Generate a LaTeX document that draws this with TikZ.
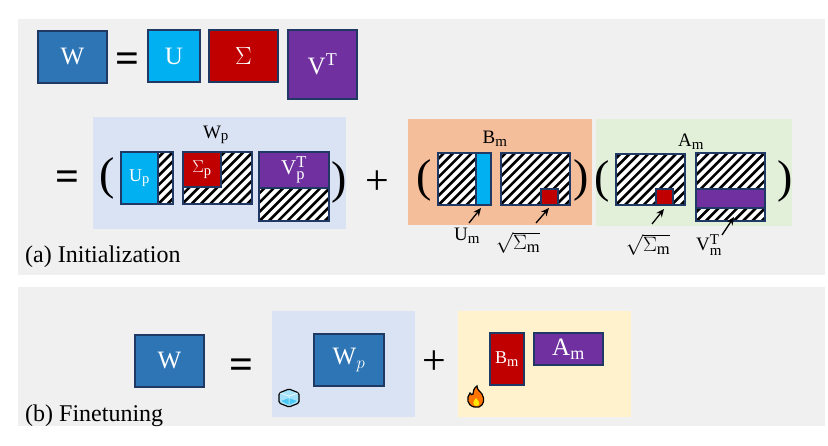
\documentclass[tikz,border=0pt]{standalone}
\usepackage{amsmath}
\usepackage{fontspec}
\setmainfont{Liberation Serif}
\usetikzlibrary{arrows.meta,positioning,calc}
\DeclareMathSizes{18}{18}{14.5}{11}
\DeclareMathSizes{19}{19}{15}{11}
\DeclareMathSizes{21}{21}{16.5}{12}
\DeclareMathSizes{25}{25}{18}{13}
\definecolor{panelgray}{RGB}{240,240,240}
\definecolor{edgecolor}{RGB}{32,56,100}
\definecolor{wcolor}{RGB}{46,117,182}
\definecolor{ucolor}{RGB}{0,176,240}
\definecolor{scolor}{RGB}{192,0,0}
\definecolor{vcolor}{RGB}{112,48,160}
\definecolor{lightblue}{RGB}{218,227,243}
\definecolor{lightorange}{RGB}{245,190,155}
\definecolor{lightgreen}{RGB}{226,240,217}
\definecolor{lightyellow}{RGB}{255,242,204}
\tikzset{
  panel/.style={anchor=north west,inner sep=0pt,outer sep=0pt},
  matbox/.style={draw=edgecolor,line width=1.2pt,inner sep=0pt,outer sep=0pt,
    text=white,font=\fontsize{25}{29}\selectfont},
  smallbox/.style={matbox,font=\fontsize{18}{21}\selectfont},
  hatchbox/.style={draw=edgecolor,fill=white,line width=1.2pt,inner sep=0pt,outer sep=0pt,anchor=north west},
  partbox/.style={smallbox,anchor=north west},
  bigsym/.style={inner sep=0pt,font=\fontsize{42}{46}\selectfont},
  bigparen/.style={inner sep=0pt,font=\fontsize{46}{50}\selectfont},
  lbl/.style={inner sep=0pt,font=\fontsize{19}{22}\selectfont},
  rootlbl/.style={inner sep=0pt,font=\fontsize{21}{24}\selectfont},
  caption/.style={inner sep=0pt,anchor=west,font=\fontsize{24}{28}\selectfont},
  ptr/.style={-{Stealth[length=8pt,width=7pt]},line width=1.3pt}
}
% stripes inside a named box, border drawn again on top
\newcommand{\hatchin}[1]{
  \begin{scope}
    \clip (#1.north west) rectangle (#1.south east);
    \foreach \k in {-9,...,9}
      \draw[black,line width=2.6pt] ($(#1.center)+(\k*9.3-60,60)$) -- ++(120,-120);
  \end{scope}
  \draw[edgecolor,line width=1.2pt] (#1.north west) rectangle (#1.south east);
}

\begin{document}
\begin{tikzpicture}[x=1pt,y=-1pt,node distance=9pt]
  \useasboundingbox (0,0) rectangle (828,446);
  \node[panel,fill=panelgray,minimum width=807pt,minimum height=256pt] (panela) at (18,19) {};
  \node[panel,fill=panelgray,minimum width=807pt,minimum height=139pt] (panelb) at (18,287) {};

  % first row
  \node[matbox,fill=wcolor,minimum width=69pt,minimum height=52pt] (w) at (72.5,57) {W};
  \node[bigsym] (eqa) at (127,63) {\textbf{=}};
  \node[matbox,fill=ucolor,minimum width=52pt,minimum height=52pt] (u) at (174,56) {U};
  \node[matbox,fill=scolor,minimum width=69pt,minimum height=52pt,right=of u] (sigma) {$\Sigma$};
  \node[matbox,fill=vcolor,minimum width=69pt,minimum height=69pt,anchor=north west]
    (v) at (288,30) {$\mathrm{V}^{\mathrm{T}}$};

  % second row, background blocks
  \node[panel,fill=lightblue,minimum width=253pt,minimum height=112pt] (wpblock) at (93,117) {};
  \node[panel,fill=lightorange,minimum width=184pt,minimum height=106pt] (bmblock) at (408,119) {};
  \node[panel,fill=lightgreen,minimum width=196pt,minimum height=107pt] (amblock) at (596,119) {};
  \node[lbl] (wplbl) at (216,135) {$\mathrm{W}_{\mathrm{p}}$};
  \node[lbl] (bmlbl) at (495,139) {$\mathrm{B}_{\mathrm{m}}$};
  \node[lbl] (amlbl) at (691,142) {$\mathrm{A}_{\mathrm{m}}$};

  \node[bigsym] (eqb) at (67,181) {\textbf{=}};
  \node[bigparen] (opena) at (107,178) {(};
  \node[bigparen] (closea) at (339,182) {)};
  \node[bigsym] (plusa) at (377,183) {+};
  \node[bigparen] (openb) at (424,180) {(};
  \node[bigparen] (closeb) at (581,180) {)};
  \node[bigparen] (openc) at (602,181) {(};
  \node[bigparen] (closec) at (785,181) {)};

  % hatched matrices with their coloured parts
  \node[hatchbox,minimum width=52pt,minimum height=52pt] (up) at (121,152) {};
  \hatchin{up}
  \node[partbox,fill=ucolor,minimum width=37pt,minimum height=52pt] (uppart) at (up.north west) {$\mathrm{U}_{\mathrm{p}}$};
  \node[hatchbox,minimum width=69pt,minimum height=52pt] (sp) at (183,152) {};
  \hatchin{sp}
  \node[partbox,fill=scolor,minimum width=38pt,minimum height=35pt] (sppart) at (sp.north west) {$\Sigma_{\mathrm{p}}$};
  \node[hatchbox,minimum width=70pt,minimum height=69pt] (vp) at (259,152) {};
  \hatchin{vp}
  \node[partbox,fill=vcolor,minimum width=70pt,minimum height=36pt,font=\fontsize{21}{24}\selectfont] (vppart) at (vp.north west) {$\mathrm{V}_{\mathrm{p}}^{\mathrm{T}}$};

  \node[hatchbox,minimum width=53pt,minimum height=52pt] (um) at (438,153) {};
  \hatchin{um}
  \node[partbox,fill=ucolor,minimum width=15pt,minimum height=52pt,anchor=north east] (umpart) at (um.north east) {};
  \node[hatchbox,minimum width=69pt,minimum height=52pt] (sb) at (501,153) {};
  \hatchin{sb}
  \node[partbox,fill=scolor,minimum width=17pt,minimum height=16pt,anchor=south west] (sbpart) at (541,205) {};
  \node[hatchbox,minimum width=69pt,minimum height=51pt] (sa) at (616,154) {};
  \hatchin{sa}
  \node[partbox,fill=scolor,minimum width=17pt,minimum height=16pt,anchor=south west] (sapart) at (656,205) {};
  \node[hatchbox,minimum width=69pt,minimum height=68pt] (vm) at (696,153) {};
  \hatchin{vm}
  \node[partbox,fill=vcolor,minimum width=69pt,minimum height=19pt] (vmpart) at (696,189) {};

  % pointers
  \node[lbl] (umlbl) at (467,236) {$\mathrm{U}_{\mathrm{m}}$};
  \node[rootlbl] (sblbl) at (518,243) {$\sqrt{\Sigma_{\mathrm{m}}}$};
  \node[rootlbl] (salbl) at (648,245) {$\sqrt{\Sigma_{\mathrm{m}}}$};
  \node[lbl] (vmlbl) at (709,245) {$\mathrm{V}_{\mathrm{m}}^{\mathrm{T}}$};
  \coordinate (umfrom) at (469,223);
  \coordinate (umto) at (481,208);
  \coordinate (sbfrom) at (536,223);
  \coordinate (sbto) at (549,208);
  \coordinate (safrom) at (652,224);
  \coordinate (sato) at (664,209);
  \coordinate (vmfrom) at (722,235);
  \coordinate (vmto) at (734,217);
  \draw[ptr] (umfrom) -- (umto);
  \draw[ptr] (sbfrom) -- (sbto);
  \draw[ptr] (safrom) -- (sato);
  \draw[ptr] (vmfrom) -- (vmto);
  \node[caption] (capa) at (25,257) {(a) Initialization};

  % finetuning
  \node[matbox,fill=wcolor,minimum width=69pt,minimum height=52pt,anchor=north west] (wb) at (135,335) {W};
  \node[bigsym] (eqc) at (241,369) {\textbf{=}};
  \node[panel,fill=lightblue,minimum width=143pt,minimum height=106pt] (frozen) at (272,311) {};
  \node[panel,fill=lightyellow,minimum width=173pt,minimum height=106pt] (trained) at (458,311) {};
  \node[matbox,fill=wcolor,minimum width=70pt,minimum height=52pt,anchor=north west] (wpb) at (314,334) {$\mathrm{W}_{p}$};
  \node[bigsym] (plusb) at (434,363) {+};
  \node[smallbox,fill=scolor,minimum width=34pt,minimum height=52pt,anchor=north west] (bmb) at (490,333) {\raisebox{-10pt}{$\mathrm{B}_{\mathrm{m}}$}};
  \node[matbox,fill=vcolor,minimum width=69pt,minimum height=32pt,anchor=north west] (amb) at (534,333) {$\mathrm{A}_{\mathrm{m}}$};
  \node[caption] (capb) at (25,416) {(b) Finetuning};

  % ice cube
  \draw[black,line width=1.2pt,fill=ucolor!35,rounded corners=1.5pt]
    (279,393) -- (289,389) -- (299,393) -- (299,403) -- (289,407) -- (279,403) -- cycle;
  \fill[ucolor!70,rounded corners=1pt] (281,401) -- (289,398) -- (297,401) -- (289,405) -- cycle;
  \draw[white,line width=.5pt] (280,393) -- (289,396) -- (298,393) (289,396) -- (289,405);

  % flame
  \draw[black,line width=1.2pt,fill=orange!90!red]
    (474,407) .. controls (467,405) and (466,398) .. (470,393)
    .. controls (471,395) and (472,395) .. (473,394)
    .. controls (473,391) and (474,388) .. (477,386)
    .. controls (477,390) and (480,391) .. (482,394)
    .. controls (485,399) and (484,405) .. (479,407) -- cycle;
  \fill[yellow!90!orange] (476,406) .. controls (472,405) and (473,401) .. (476,398)
    .. controls (479,401) and (481,405) .. (477,406) -- cycle;
\end{tikzpicture}
\end{document}
